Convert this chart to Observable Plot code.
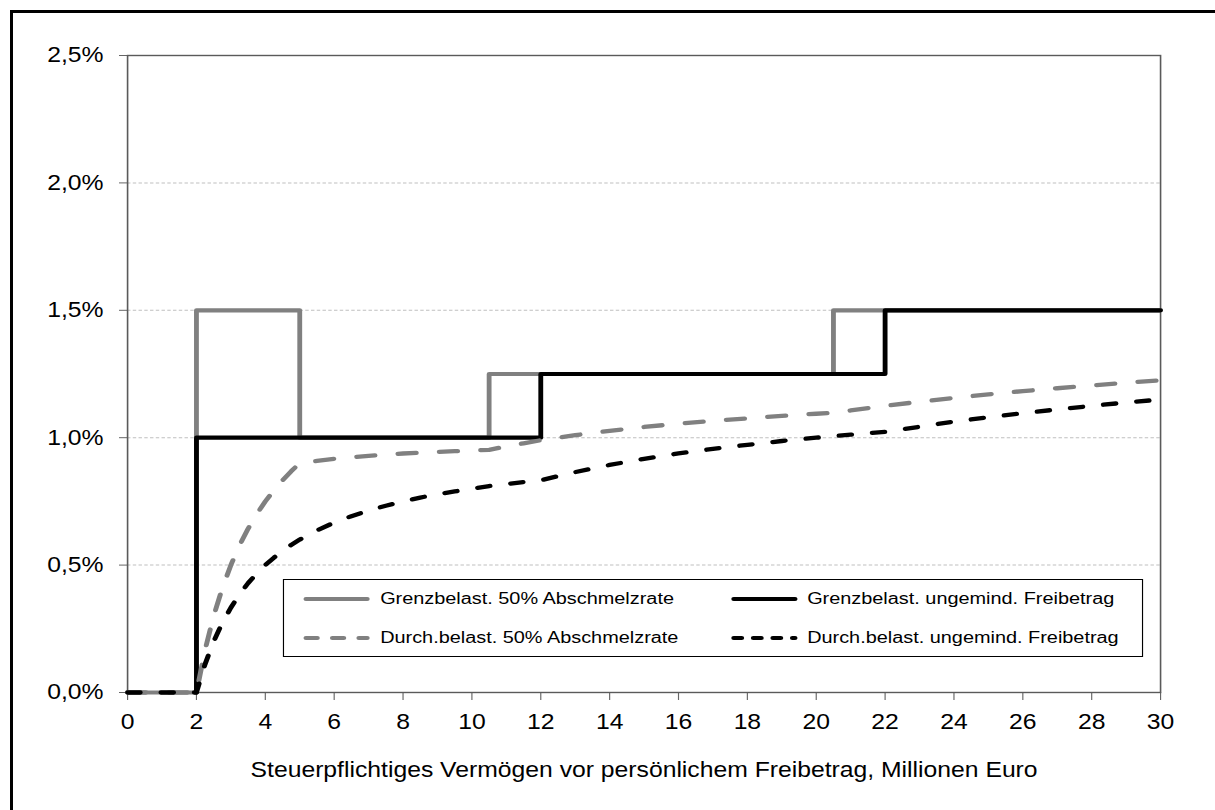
<!DOCTYPE html>
<html><head><meta charset="utf-8">
<script src="https://cdn.jsdelivr.net/npm/d3@7"></script>
<script src="https://cdn.jsdelivr.net/npm/@observablehq/plot@0.6"></script>
<style>
html,body{margin:0;padding:0;background:#fff;overflow:hidden}
#wrap{position:relative;width:1215px;height:810px;overflow:hidden;font-family:"Liberation Sans",Arial,sans-serif;background:#fff}
#outer{position:absolute;left:10px;top:10px;width:1300px;height:900px;border-left:3.5px solid #000;border-top:3.5px solid #000;pointer-events:none}
#stretch{position:absolute;left:0;top:0;transform-origin:0 0}
.lg{position:absolute;background:#fff;border:1px solid #000;box-sizing:border-box}
.lg span{position:absolute;white-space:nowrap;transform:translateY(-50%);font-size:17.3px;color:#000;line-height:1}
.lg svg{position:absolute;overflow:visible}
</style></head><body>
<div id="wrap"><div id="stretch"></div><div id="outer"></div></div>
<script>
// ---------- data ----------
// marginal rates (step functions): breakpoints in million euro, rate in %
const grenz50X = [0, 2, 5, 10.5, 20.5, 30];
const grenz50Y = [0, 1.5, 1.0, 1.25, 1.5, 1.5];
const grenzUngX = [2, 2, 12, 22, 30];
const grenzUngY = [0, 1.0, 1.25, 1.5, 1.5];
// average rates
const vermoegen = [0,1,2,2.25,2.5,2.75,3,3.25,3.5,3.75,4,4.25,4.5,4.75,5,5.5,6,6.5,7,7.5,8,8.5,9,9.5,10,10.5,11,11.5,12,13,14,15,16,17,18,19,20,20.5,21,22,23,24,25,26,27,28,29,30];
const durch50 = [0,0,0,0.167,0.3,0.409,0.5,0.577,0.643,0.7,0.75,0.794,0.833,0.868,0.9,0.909,0.917,0.923,0.929,0.933,0.938,0.941,0.944,0.947,0.95,0.952,0.966,0.978,0.99,1.01,1.027,1.042,1.055,1.066,1.076,1.086,1.094,1.098,1.107,1.125,1.141,1.156,1.17,1.183,1.194,1.205,1.216,1.225];
const durchUng = [0,0,0,0.111,0.2,0.273,0.333,0.385,0.429,0.467,0.5,0.529,0.556,0.579,0.6,0.636,0.667,0.692,0.714,0.733,0.75,0.765,0.778,0.789,0.8,0.81,0.818,0.826,0.833,0.865,0.893,0.917,0.938,0.956,0.972,0.987,1.0,1.006,1.012,1.023,1.043,1.063,1.08,1.096,1.111,1.125,1.138,1.15];
// ticks & labels
const xTicks = [0,2,4,6,8,10,12,14,16,18,20,22,24,26,28,30];
const yTicks = [0,0.5,1.0,1.5,2.0,2.5];
const xTitle = "Steuerpflichtiges Vermögen vor persönlichem Freibetrag, Millionen Euro";
const legendLabels = ["Grenzbelast. 50% Abschmelzrate","Grenzbelast. ungemind. Freibetrag","Durch.belast. 50% Abschmelzrate","Durch.belast. ungemind. Freibetrag"];

// ---------- build ----------
const S = 1.15; // horizontal stretch of the original rendering
const W = 1215, H = 810;
const GREY = "#808080";
const toRows = (xs, ys) => xs.map((x, i) => ({x, y: ys[i]}));
const g50 = toRows(grenz50X, grenz50Y);
const gUng = toRows(grenzUngX, grenzUngY);
const d50 = toRows(vermoegen, durch50);
const dUng = toRows(vermoegen, durchUng);
const fmtY = d => d.toFixed(1).replace(".", ",") + "%";

const chart = Plot.plot({
  width: W / S, height: H,
  marginLeft: 127 / S, marginRight: 55 / S, marginTop: 55, marginBottom: 118,
  x: {domain: [0, 30]},
  y: {domain: [0, 2.5]},
  style: {fontFamily: "'Liberation Sans', Arial, sans-serif", fontSize: "21.5px", color: "#000", background: "transparent", overflow: "visible"},
  marks: [
    Plot.gridY(yTicks.filter(d => d > 0 && d < 2.5), {stroke: "#c0c0c0", strokeOpacity: 1, strokeWidth: 1, strokeDasharray: "3,2"}),
    Plot.axisX({ticks: xTicks, tickSize: 8, tickPadding: 13, label: null, fontSize: 21.5, stroke: "#666", fill: "#000", tickFormat: d => String(d)}),
    Plot.axisY({ticks: yTicks, tickSize: 8 / S, tickPadding: 16 / S, label: null, fontSize: 21.5, stroke: "#666", fill: "#000", tickFormat: fmtY}),
    Plot.frame({stroke: "#5a5a5a", strokeWidth: 1.4}),
    Plot.line(g50, {x: "x", y: "y", curve: "step-after", stroke: GREY, strokeWidth: 4.2}),
    Plot.line(gUng, {x: "x", y: "y", curve: "step-after", stroke: "#000", strokeWidth: 4.2}),
    Plot.line(d50, {x: "x", y: "y", stroke: GREY, strokeWidth: 4.3, strokeDasharray: "16,20", strokeLinecap: "round"}),
    Plot.line(dUng, {x: "x", y: "y", stroke: "#000", strokeWidth: 4.3, strokeDasharray: "11,18", strokeLinecap: "round"}),
    Plot.text([xTitle], {frameAnchor: "bottom", dy: 85, fontSize: 21.5, fill: "#000"})
  ]
});

const stretch = document.getElementById("stretch");
stretch.style.width = (W / S) + "px";
stretch.style.height = H + "px";
stretch.style.transform = `scaleX(${S})`;
stretch.appendChild(chart);

// legend (positions in original pixels, divided by S inside the stretched layer)
const LG = {left: 283, top: 579, right: 1143, bottom: 657};
const lg = document.createElement("div");
lg.className = "lg";
lg.style.left = (LG.left / S) + "px";
lg.style.top = LG.top + "px";
lg.style.width = ((LG.right - LG.left) / S) + "px";
lg.style.height = (LG.bottom - LG.top) + "px";
stretch.appendChild(lg);
const colLineX = [302, 730], colTextX = [379, 806], rowY = [599, 638];
const legendStyle = [
  {stroke: GREY, dash: null},
  {stroke: "#000", dash: null},
  {stroke: GREY, dash: "10,13"},
  {stroke: "#000", dash: "7,10"}
];
legendLabels.forEach((label, i) => {
  const col = i % 2, row = Math.floor(i / 2);
  const st = legendStyle[i];
  const x0 = (colLineX[col] - LG.left) / S, len = 66 / S;
  const y = rowY[row] - LG.top - 1;
  const svg = d3.create("svg").attr("width", len).attr("height", 10)
    .style("left", x0 + "px").style("top", (y - 5) + "px");
  svg.append("line").attr("x1", 2).attr("x2", len - 2).attr("y1", 5).attr("y2", 5)
    .attr("stroke", st.stroke).attr("stroke-width", 4.2).attr("stroke-linecap", "round")
    .attr("stroke-dasharray", st.dash);
  lg.appendChild(svg.node());
  const sp = document.createElement("span");
  sp.textContent = label;
  sp.style.left = ((colTextX[col] - LG.left) / S) + "px";
  sp.style.top = y + "px";
  lg.appendChild(sp);
});
</script>
</body></html>
